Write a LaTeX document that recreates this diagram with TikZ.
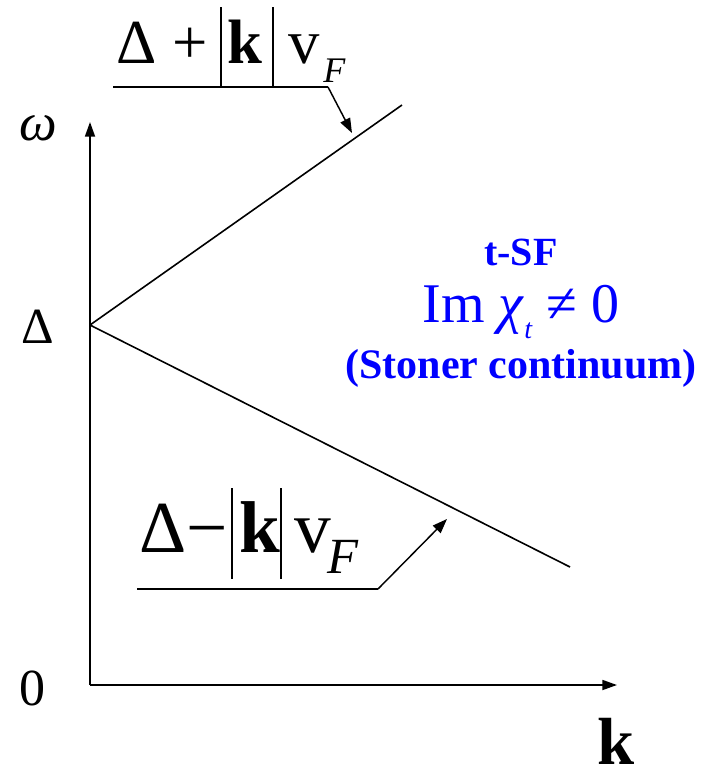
\documentclass[tikz,border=0pt]{standalone}
\usepackage{fontspec}
\setmainfont{Liberation Serif}
\usetikzlibrary{arrows.meta}
\definecolor{cont}{RGB}{0,0,255}
\tikzset{
  axis/.style={line width=1.3pt,-{Triangle[length=11pt,width=7.5pt]}},
  branch/.style={line width=1.2pt},
  tagline/.style={line width=1.2pt},
  pointer/.style={line width=1.1pt,-{Triangle[length=11pt,width=8pt]}},
  glyph/.style={inner sep=0pt,anchor=base west},
  blue label/.style={inner sep=0pt,anchor=base,text=cont},
}
\newcommand{\fs}[1]{\fontsize{#1}{#1}\selectfont}

\begin{document}
\begin{tikzpicture}[x=0.75pt,y=-0.75pt]
\useasboundingbox (0,0) rectangle (708,779);
% axes
\coordinate (O) at (90,685);
\coordinate (D) at (90,325);
\coordinate (wtip) at (90,122);
\coordinate (ktip) at (617,685);
\draw[axis] (O) -- (wtip);
\draw[axis] (O) -- (ktip);
\node[glyph,font=\fs{40}\itshape] (w) at (19,140) {ω};
\node[glyph,font=\fs{38}] (delta) at (21,343) {Δ};
\node[glyph,font=\fs{39}] (zero) at (19,705) {0};
\node[glyph,font=\fs{50}\bfseries] (k) at (597,764) {k};
% the two branches
\coordinate (up) at (402,105);
\coordinate (down) at (570,567);
\draw[branch] (D) -- (up);
\draw[branch] (D) -- (down);
% upper label
\node[glyph,font=\fs{47}] (plusD) at (116,63) {Δ +};
\node[glyph,font=\fs{47}\bfseries] (plusk) at (227,63) {k};
\node[glyph,font=\fs{47}] (plusv) at (288,63) {v};
\node[glyph,font=\fs{27}\itshape] (plusF) at (323,82) {F};
\draw[tagline] (221,7) -- (221,88);
\draw[tagline] (273,7) -- (273,88);
\coordinate (plusA) at (113,87);
\coordinate (plusB) at (328,87);
\coordinate (plusC) at (352,133);
\draw[tagline] (plusA) -- (plusB);
\draw[pointer] (plusB) -- (plusC);
% lower label
\node[glyph,font=\fs{55}] (minD) at (139,552) {Δ};
\node[glyph,font=\fs{55}] (mins) at (186,552) {−};
\node[glyph,font=\fs{55}\bfseries] (mink) at (239,552) {k};
\node[glyph,font=\fs{55}] (minv) at (294,552) {v};
\node[glyph,font=\fs{38}\itshape] (minF) at (327,573) {F};
\draw[tagline] (232,488) -- (232,579);
\draw[tagline] (281,488) -- (281,579);
\coordinate (minA) at (137,589);
\coordinate (minB) at (378,589);
\coordinate (minC) at (447,519);
\draw[tagline] (minA) -- (minB);
\draw[pointer] (minB) -- (minC);
% continuum
\node[blue label,font=\fs{30}\bfseries] (tsf) at (521,265) {t-SF};
\node[blue label,font=\fs{42}] (im) at (521,322) {Im \textit{χ}\raisebox{-0.3em}{\fs{21}\textit{t}} ≠ 0};
\node[blue label,font=\fs{31.5}\bfseries] (stoner) at (521,378) {(Stoner continuum)};
\end{tikzpicture}
\end{document}
